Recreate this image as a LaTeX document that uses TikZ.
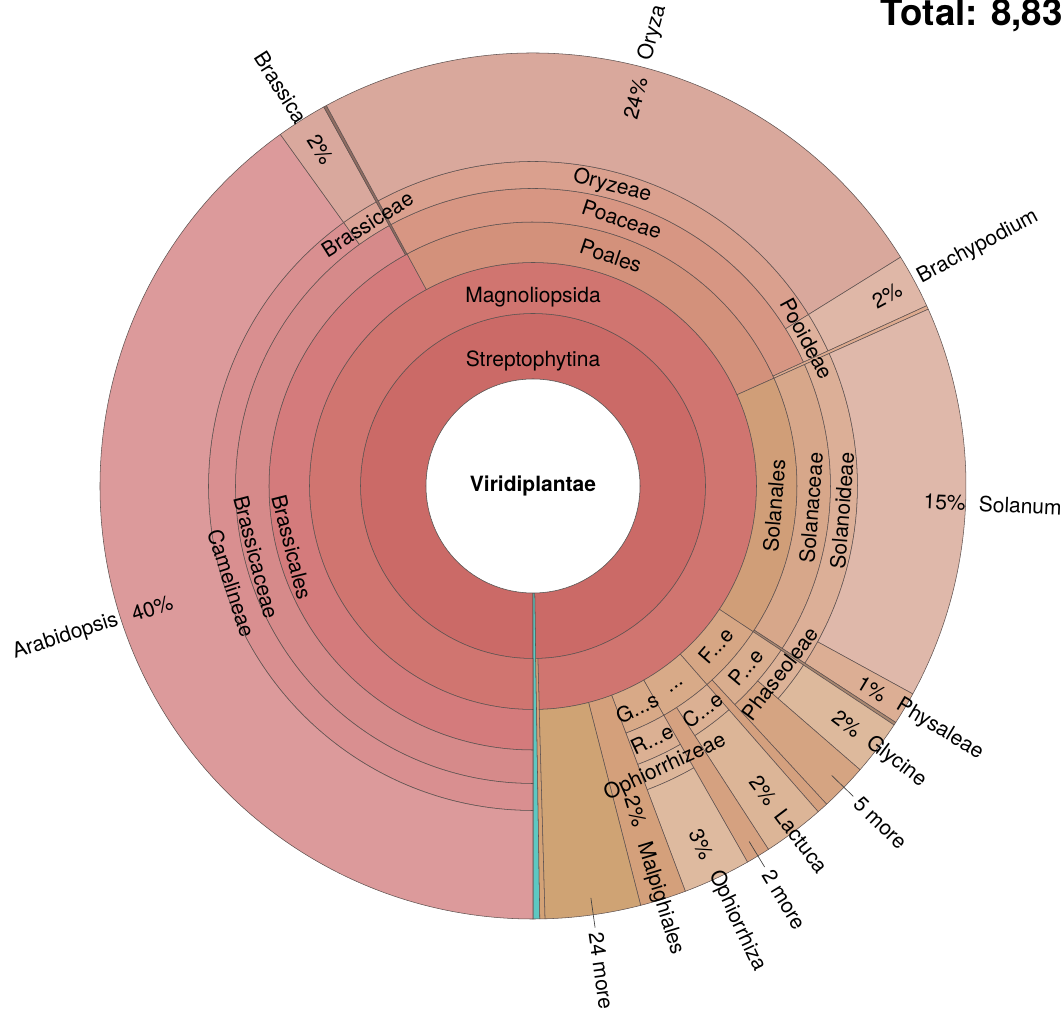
\documentclass[tikz,border=0pt]{standalone}
\usepackage{fontspec}
\setmainfont{TeX Gyre Heros}
\definecolor{edgec}{HTML}{5F5250}
\definecolor{cStrep}{HTML}{CB6A67}
\definecolor{cMagn}{HTML}{D07570}
\definecolor{cTeal}{HTML}{5DC8C2}
\definecolor{cSlv0}{HTML}{D3A276}
\definecolor{cBrOrd}{HTML}{D47B7C}
\definecolor{cBrFam}{HTML}{D68A8A}
\definecolor{cCamel}{HTML}{D98F90}
\definecolor{cArab}{HTML}{DC9A9B}
\definecolor{cBrTr}{HTML}{DBA395}
\definecolor{cBrass}{HTML}{D9A89D}
\definecolor{cSlvB}{HTML}{8E6C62}
\definecolor{cPoales}{HTML}{D3917B}
\definecolor{cPoac}{HTML}{D79683}
\definecolor{cOryzeae}{HTML}{DAA08E}
\definecolor{cOryza}{HTML}{D9A89C}
\definecolor{cPooid}{HTML}{DFB19C}
\definecolor{cBrachy}{HTML}{DFB7A7}
\definecolor{cSlvP}{HTML}{DDAA8E}
\definecolor{cSolOrd}{HTML}{D09E78}
\definecolor{cSolFam}{HTML}{D7A78A}
\definecolor{cSolSub}{HTML}{DCAF97}
\definecolor{cSolanum}{HTML}{DFB8AA}
\definecolor{cPhysal}{HTML}{DCAE94}
\definecolor{cSlvS}{HTML}{A88770}
\definecolor{cFab}{HTML}{D6A684}
\definecolor{cPap}{HTML}{D9AD8E}
\definecolor{cPhaseo}{HTML}{DCB297}
\definecolor{cGlyc}{HTML}{DDB99C}
\definecolor{cFive}{HTML}{D5A482}
\definecolor{cSlvF}{HTML}{D4A07E}
\definecolor{cDots}{HTML}{D8AA88}
\definecolor{cComp}{HTML}{DBB093}
\definecolor{cLact}{HTML}{DCB597}
\definecolor{cTwo}{HTML}{D5A180}
\definecolor{cGent}{HTML}{D8A987}
\definecolor{cRub}{HTML}{DBB093}
\definecolor{cOphT}{HTML}{DDB69A}
\definecolor{cOph}{HTML}{DEBA9F}
\definecolor{cMalp}{HTML}{D4A07B}
\definecolor{cMore}{HTML}{CFA374}
% annular wedge: inner radius, outer radius, start angle, end angle, colour
\newcommand{\krwedge}[5]{%
  \filldraw[wedgeline, fill=#5] (#3:#1) arc[start angle=#3, end angle=#4, radius=#1]
    -- (#4:#2) arc[start angle=#4, end angle=#3, radius=#2] -- cycle;}
\begin{document}
\begin{tikzpicture}[x=0.75pt,y=0.75pt,
  wedgeline/.style={draw=edgec, line width=0.4pt},
  lab/.style={font=\fontsize{15.75}{19}\selectfont, inner sep=0pt, text=black},
  boldlab/.style={font=\fontsize{15.75}{19}\selectfont\bfseries, inner sep=0pt},
  ticklink/.style={draw=black!75, line width=0.5pt},
  titlelab/.style={font=\fontsize{27.5}{32}\selectfont\bfseries, inner sep=0pt}]
\useasboundingbox (0,0) rectangle (1064,1010);
\node[titlelab, anchor=base east] (total) at (1063,984) {Total: 8,83};
\begin{scope}[shift={(533,524)}]
% ring radii: 107, 172.5, 223.5, 264, 297.5, 324.5, 433
\krwedge{107}{172.5}{270}{-89.1}{cStrep}
\krwedge{107}{433}{-89.1}{-90}{cTeal}
\krwedge{172.5}{223.5}{270}{-88.4}{cMagn}
\krwedge{172.5}{433}{-88.4}{-89.1}{cSlv0}
% Brassicales
\krwedge{223.5}{264}{270}{118.5}{cBrOrd}
\krwedge{264}{297.5}{270}{118.9}{cBrFam}
\krwedge{297.5}{324.5}{270}{125.7}{cCamel}
\krwedge{324.5}{433}{270}{125.7}{cArab}
\krwedge{297.5}{324.5}{125.7}{118.9}{cBrTr}
\krwedge{324.5}{433}{125.7}{118.9}{cBrass}
\krwedge{264}{433}{118.9}{118.5}{cSlvB}
% Poales
\krwedge{223.5}{264}{118.5}{24.1}{cPoales}
\krwedge{264}{297.5}{118.5}{24.6}{cPoac}
\krwedge{297.5}{324.5}{118.5}{31.9}{cOryzeae}
\krwedge{324.5}{433}{118.5}{31.9}{cOryza}
\krwedge{297.5}{324.5}{31.9}{24.6}{cPooid}
\krwedge{324.5}{433}{31.9}{24.6}{cBrachy}
\krwedge{264}{433}{24.6}{24.1}{cSlvP}
% Solanales
\krwedge{223.5}{264}{24.1}{-33.5}{cSolOrd}
\krwedge{264}{297.5}{24.1}{-33.1}{cSolFam}
\krwedge{297.5}{324.5}{24.1}{-33.1}{cSolSub}
\krwedge{324.5}{433}{24.1}{-28.7}{cSolanum}
\krwedge{324.5}{433}{-28.7}{-33.1}{cPhysal}
\krwedge{264}{433}{-33.1}{-33.5}{cSlvS}
% Fabales
\krwedge{223.5}{264}{-33.5}{-48.8}{cFab}
\krwedge{264}{297.5}{-33.5}{-47.3}{cPap}
\krwedge{297.5}{324.5}{-33.5}{-40.95}{cPhaseo}
\krwedge{324.5}{433}{-33.5}{-40.95}{cGlyc}
\krwedge{297.5}{433}{-40.95}{-47.3}{cFive}
\krwedge{264}{433}{-47.3}{-48.8}{cSlvF}
% ...
\krwedge{223.5}{264}{-48.8}{-60.3}{cDots}
\krwedge{264}{297.5}{-48.8}{-57.06}{cComp}
\krwedge{297.5}{433}{-48.8}{-57.06}{cLact}
\krwedge{264}{433}{-57.06}{-60.3}{cTwo}
% G...s
\krwedge{223.5}{264}{-60.3}{-69.4}{cGent}
\krwedge{264}{297.5}{-60.3}{-69.4}{cRub}
\krwedge{297.5}{324.5}{-60.3}{-69.4}{cOphT}
\krwedge{324.5}{433}{-60.3}{-69.4}{cOph}
% Malpighiales and 24 more
\krwedge{223.5}{433}{-69.4}{-75.6}{cMalp}
\krwedge{223.5}{433}{-75.6}{-88.4}{cMore}
% centre
\filldraw[wedgeline, fill=white] (0,0) circle[radius=107];
\node[boldlab] (viri) at (0,0) {Viridiplantae};
% inner labels
\node[lab] (strep) at (90:125) {Streptophytina};
\node[lab] (magn) at (90:189) {Magnoliopsida};
\node[lab, rotate=-75.75] (brord) at (194.25:249) {Brassicales};
\node[lab, rotate=-75.55] (brfam) at (194.45:286) {Brassicaceae};
\node[lab, rotate=-72.15] (camel) at (197.85:317) {Camelineae};
\node[lab, rotate=32.3] (brtr) at (122.3:310) {Brassiceae};
\node[lab, rotate=-18.7] (poales) at (71.3:243) {Poales};
\node[lab, rotate=-18.45] (poac) at (71.55:281) {Poaceae};
\node[lab, rotate=-14.8] (oryzeae) at (75.2:310) {Oryzeae};
\node[lab, rotate=-61.75] (pooid) at (28.25:311) {Pooideae};
\node[lab, rotate=85.3] (solord) at (-4.7:242) {Solanales};
\node[lab, rotate=85.5] (solfam) at (-4.5:279) {Solanaceae};
\node[lab, rotate=85.5] (solsub) at (-4.5:310) {Solanoideae};
\node[lab, rotate=48.85] (fab) at (-41.15:243) {F...e};
\node[lab, rotate=49.6] (pap) at (-40.4:280) {P...e};
\node[lab, rotate=52.8] (phaseo) at (-37.2:310) {Phaseoleae};
\node[lab, rotate=35.45] (dots) at (-54.55:247) {...};
\node[lab, rotate=37.1] (comp) at (-52.9:281) {C...e};
\node[lab, rotate=25.15] (gent) at (-64.85:245) {G...s};
\node[lab, rotate=25.15] (rub) at (-64.85:280) {R...e};
\node[lab, rotate=25.15] (ophtr) at (-64.85:311) {Ophiorrhizeae};
% percentages
\node[lab, rotate=17.85] (p40) at (197.85:400) {40\%};
\node[lab, rotate=-57.7] (pbr) at (122.3:398) {2\%};
\node[lab, rotate=75.2] (p24) at (75.2:401) {24\%};
\node[lab, rotate=28.25] (pbra) at (28.25:402) {2\%};
\node[lab, rotate=-2.3] (p15) at (-2.3:412) {15\%};
\node[lab, rotate=-30.9] (pphy) at (-30.9:395) {1\%};
\node[lab, rotate=-37.2] (pgly) at (-37.2:394) {2\%};
\node[lab, rotate=-52.9] (plac) at (-52.9:382) {2\%};
\node[lab, rotate=-64.85] (poph) at (-64.85:396) {3\%};
\node[lab, rotate=-72.5] (pmal) at (-72.5:341) {2\%};
% outer labels
\node[lab, rotate=17.85, anchor=east] (arab) at (197.85:436) {Arabidopsis};
\node[lab, rotate=-57.7, anchor=east] (brass) at (122.3:431) {Brassica};
\node[lab, rotate=75.2, anchor=west] (oryza) at (75.2:440) {Oryza};
\node[lab, rotate=28.25, anchor=west] (brachy) at (28.25:438) {Brachypodium};
\node[lab, rotate=-2.3, anchor=west] (solanum) at (-2.3:446) {Solanum};
\node[lab, rotate=-30.9, anchor=west] (physal) at (-30.9:425) {Physaleae};
\node[lab, rotate=-37.2, anchor=west] (glyc) at (-37.2:421) {Glycine};
\node[lab, rotate=-52.9, anchor=west] (lact) at (-52.9:408) {Lactuca};
\node[lab, rotate=-64.85, anchor=west] (oph) at (-64.85:426) {Ophiorrhiza};
\node[lab, rotate=-72.9, anchor=west] (malp) at (-72.9:373) {Malpighiales};
% "more" labels with ticks
\coordinate (t5a) at (-44.1:416);
\coordinate (t5b) at (-44.1:446);
\draw[ticklink] (t5a) -- (t5b);
\node[lab, rotate=-44.1, anchor=west] (five) at (-44.1:451) {5 more};
\coordinate (t2a) at (-58.7:416);
\coordinate (t2b) at (-58.7:446);
\draw[ticklink] (t2a) -- (t2b);
\node[lab, rotate=-58.7, anchor=west] (two) at (-58.7:451) {2 more};
\coordinate (t24a) at (-82:416);
\coordinate (t24b) at (-82:446);
\draw[ticklink] (t24a) -- (t24b);
\node[lab, rotate=-82, anchor=west] (tf) at (-82:451) {24 more};
\end{scope}
\end{tikzpicture}
\end{document}
